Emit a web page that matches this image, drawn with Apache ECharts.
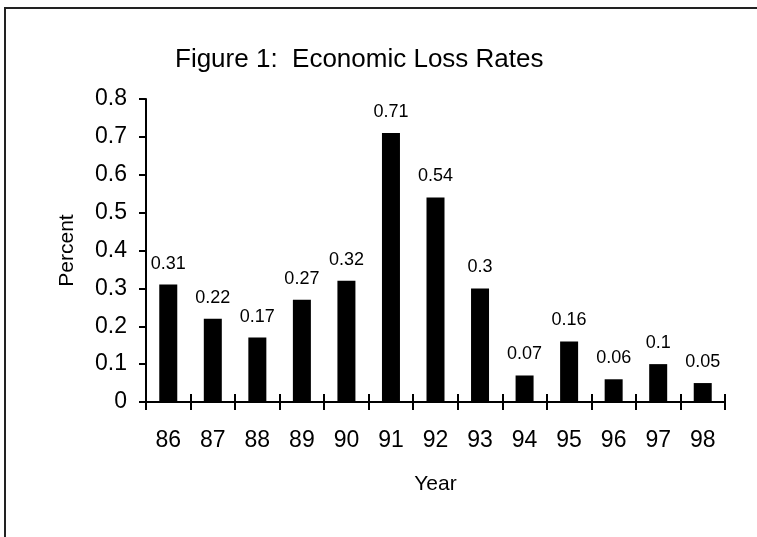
<!DOCTYPE html>
<html>
<head>
<meta charset="utf-8">
<script src="https://cdn.jsdelivr.net/npm/echarts@6/dist/echarts.min.js"></script>
<style>
html,body{margin:0;padding:0;background:#fff;}
#c{width:757px;height:537px;}
</style>
</head>
<body>
<div id="c"></div>
<script>
const years = ['86','87','88','89','90','91','92','93','94','95','96','97','98'];
const lossRates = [0.31,0.22,0.17,0.27,0.32,0.71,0.54,0.3,0.07,0.16,0.06,0.1,0.05];
const titleText = 'Figure 1:  Economic Loss Rates';
const yName = 'Percent';
const xName = 'Year';

const FONT = '"Liberation Sans", Arial, sans-serif';
const chart = echarts.init(document.getElementById('c'), null, {renderer:'canvas'});
chart.setOption({
  animation:false,
  backgroundColor:'#fff',
  title:{text:titleText,left:170,top:42,textStyle:{fontFamily:FONT,fontSize:26,fontWeight:'normal',color:'#000'}},
  graphic:[{type:'rect',shape:{x:5,y:8,width:900,height:700},style:{fill:'none',stroke:'#222',lineWidth:2},silent:true}],
  grid:{left:146,right:32,top:99,bottom:135,containLabel:false},
  xAxis:[{
    type:'category',data:years,boundaryGap:true,
    axisLine:{lineStyle:{color:'#000',width:2}},
    axisTick:{show:true,length:8,inside:false,alignWithLabel:false,lineStyle:{color:'#000',width:2}},
    axisLabel:{fontFamily:FONT,fontSize:23,color:'#000',margin:27},
    name:xName,nameLocation:'middle',nameGap:72,
    nameTextStyle:{fontFamily:FONT,fontSize:21,color:'#000'}
  },{
    type:'category',data:years,position:'bottom',boundaryGap:true,
    axisLine:{show:false},
    axisTick:{show:true,length:8,inside:true,lineStyle:{color:'#000',width:2}},
    axisLabel:{show:false}
  }],
  yAxis:{
    type:'value',min:0,max:0.8,interval:0.1,
    axisLine:{show:true,lineStyle:{color:'#000',width:2}},
    axisTick:{show:true,length:7,lineStyle:{color:'#000',width:2}},
    splitLine:{show:false},
    axisLabel:{fontFamily:FONT,fontSize:23,color:'#000',margin:19},
    name:yName,nameLocation:'middle',nameGap:68,
    nameTextStyle:{fontFamily:FONT,fontSize:21,color:'#000'}
  },
  series:[{
    type:'bar',data:lossRates,barWidth:18,xAxisIndex:0,
    itemStyle:{color:'#000'},
    label:{show:true,position:'top',distance:12,fontFamily:FONT,fontSize:18,color:'#000'}
  }]
});
</script>
</body>
</html>
